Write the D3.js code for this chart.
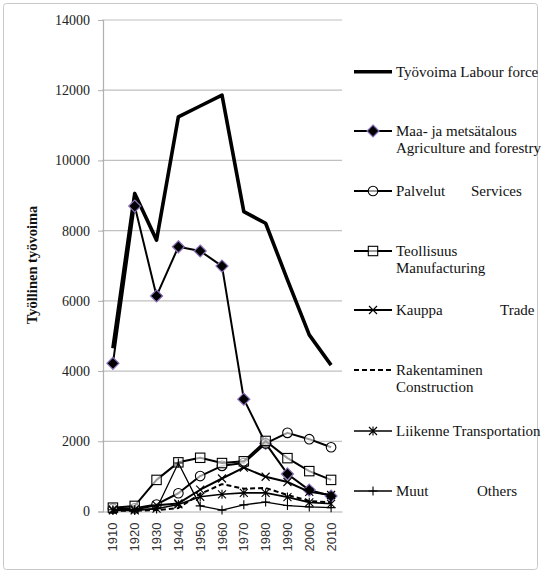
<!DOCTYPE html>
<html><head><meta charset="utf-8">
<script src="https://cdn.jsdelivr.net/npm/d3@7"></script>
<style>
html,body{margin:0;padding:0;background:#fff;}
svg{display:block;}
</style></head>
<body>
<svg id="chart" width="541" height="574"></svg>
<script>
const years = ["1910","1920","1930","1940","1950","1960","1970","1980","1990","2000","2010"];
const yTicks = [0,2000,4000,6000,8000,10000,12000,14000];
const labourForce    = [4650, 9060, 7730, 11240, 11550, 11860, 8540, 8210, 6600, 5030, 4170];
const agriculture    = [4220, 8700, 6140, 7540, 7420, 6990, 3200, 1940, 1070, 610, 440];
const services       = [80, 90, 200, 520, 1010, 1300, 1380, 1940, 2240, 2060, 1830];
const manufacturing  = [110, 160, 900, 1400, 1530, 1380, 1430, 2010, 1520, 1150, 900];
const trade          = [50, 60, 180, 230, 620, 940, 1250, 990, 840, 560, 470];
const construction   = [20, 20, 40, 100, 500, 780, 650, 670, 470, 300, 260];
const transportation = [30, 30, 80, 200, 420, 490, 530, 530, 410, 260, 220];
const others         = [50, 50, 80, 1380, 160, 40, 190, 270, 170, 130, 110];

const seriesNames = [
  ["Työvoima Labour force"],
  ["Maa- ja metsätalous","Agriculture and forestry"],
  ["Palvelut","Services"],
  ["Teollisuus","Manufacturing"],
  ["Kauppa","Trade"],
  ["Rakentaminen","Construction"],
  ["Liikenne Transportation"],
  ["Muut","Others"]
];

const svg = d3.select("#chart");
const serif = "'Liberation Serif', 'DejaVu Serif', serif";

// outer border
svg.append("rect").attr("x",3.5).attr("y",3.5).attr("width",534).attr("height",566)
  .attr("rx",3).attr("fill","none").attr("stroke","#c8c8c8").attr("stroke-width",1);

const x = d3.scaleBand().domain(years).range([102, 342]);
const xc = d => x(d) + x.bandwidth()/2;
const y = d3.scaleLinear().domain([0,14000]).range([511.5, 20]);

// gridlines
svg.append("g").selectAll("line").data(yTicks.filter(t=>t>0)).join("line")
  .attr("x1",102).attr("x2",342).attr("y1",d=>y(d)).attr("y2",d=>y(d))
  .attr("stroke","#c0c0c0").attr("stroke-width",1.2);

// y axis
const yAxis = d3.axisLeft(y).tickValues(yTicks).tickSize(5).tickPadding(8).tickFormat(d3.format("d"));
const gy = svg.append("g").attr("transform","translate(103,0)").call(yAxis);
gy.select(".domain").attr("stroke","#b0b0b0").attr("stroke-width",1.2);
gy.selectAll(".tick line").attr("stroke","#b0b0b0");
gy.selectAll("text").attr("font-family",serif).attr("font-size",14).attr("fill","#222");

// x axis
const xAxis = d3.axisBottom(x).tickSize(0).tickPadding(0);
const gx = svg.append("g").attr("transform","translate(0,511.5)").call(xAxis);
gx.select(".domain").attr("stroke","#b0b0b0").attr("stroke-width",1.2);
gx.selectAll("text")
  .attr("font-family","'Liberation Sans', Arial, sans-serif").attr("font-size",13).attr("fill","#333")
  .attr("transform","rotate(-90)").attr("text-anchor","end").attr("dy","0.35em")
  .attr("x",-11).attr("y",0);

// y title
svg.append("text").attr("transform","translate(37,265) rotate(-90)")
  .attr("text-anchor","middle").attr("font-family",serif).attr("font-weight","bold")
  .attr("font-size",14.5).attr("fill","#111").text("Työllinen työvoima");

const line = d3.line().x((d,i)=>xc(years[i])).y(d=>y(d));

const defs = [
  {data:labourForce, w:3.6, dash:null, marker:null},
  {data:agriculture, w:2, dash:null, marker:"diamond"},
  {data:services, w:2, dash:null, marker:"circle"},
  {data:manufacturing, w:2, dash:null, marker:"square"},
  {data:trade, w:2, dash:null, marker:"x"},
  {data:construction, w:2, dash:"5,3", marker:null},
  {data:transportation, w:1.6, dash:null, marker:"star"},
  {data:others, w:1.3, dash:null, marker:"plus"}
];

function drawMarker(g, type, cx, cy){
  if(type==="diamond"){
    g.append("path").attr("d",`M${cx},${cy-6}L${cx+6},${cy}L${cx},${cy+6}L${cx-6},${cy}Z`)
      .attr("fill","#000").attr("stroke","#8a6fb8").attr("stroke-width",1.2);
  } else if(type==="circle"){
    g.append("circle").attr("cx",cx).attr("cy",cy).attr("r",4.8)
      .attr("fill","#fff").attr("fill-opacity",0.6).attr("stroke","#000").attr("stroke-width",1.1);
  } else if(type==="square"){
    g.append("rect").attr("x",cx-4.7).attr("y",cy-4.7).attr("width",9.4).attr("height",9.4)
      .attr("fill","#fff").attr("fill-opacity",0.6).attr("stroke","#000").attr("stroke-width",1.1);
  } else if(type==="x"){
    g.append("path").attr("d",`M${cx-4},${cy-4}L${cx+4},${cy+4}M${cx-4},${cy+4}L${cx+4},${cy-4}`)
      .attr("stroke","#000").attr("stroke-width",1.1).attr("fill","none");
  } else if(type==="star"){
    g.append("path").attr("d",`M${cx-4},${cy-4}L${cx+4},${cy+4}M${cx-4},${cy+4}L${cx+4},${cy-4}M${cx},${cy-4.5}L${cx},${cy+4.5}`)
      .attr("stroke","#000").attr("stroke-width",1.1).attr("fill","none");
  } else if(type==="plus"){
    g.append("path").attr("d",`M${cx-4.5},${cy}L${cx+4.5},${cy}M${cx},${cy-4.5}L${cx},${cy+4.5}`)
      .attr("stroke","#000").attr("stroke-width",1.1).attr("fill","none");
  }
}

// draw series
defs.forEach(s=>{
  const g = svg.append("g");
  g.append("path").datum(s.data).attr("d",line).attr("fill","none")
    .attr("stroke","#000").attr("stroke-width",s.w).attr("stroke-linejoin","round")
    .attr("stroke-dasharray",s.dash);
  if(s.marker){
    s.data.forEach((v,i)=>drawMarker(g, s.marker, xc(years[i]), y(v)));
  }
});

// legend
const legY = [71.7, 131, 191, 251, 310, 370, 431, 491];
const secondX = {2:471, 4:500, 7:477};
defs.forEach((s,i)=>{
  const g = svg.append("g");
  const ly = legY[i];
  g.append("line").attr("x1",354).attr("x2",392).attr("y1",ly).attr("y2",ly)
    .attr("stroke","#000").attr("stroke-width",s.w).attr("stroke-dasharray",s.dash);
  if(s.marker) drawMarker(g, s.marker, 373, ly);
  const names = seriesNames[i];
  const t = g.append("text").attr("font-family",serif).attr("font-size",15).attr("fill","#111");
  if(names.length===1){
    t.attr("x",396).attr("y",ly+5).text(names[0]);
  } else if(secondX[i]){
    t.append("tspan").attr("x",396).attr("y",ly+5).text(names[0]);
    t.append("tspan").attr("x",secondX[i]).attr("y",ly+5).text(names[1]);
  } else {
    t.append("tspan").attr("x",396).attr("y",ly+5).text(names[0]);
    t.append("tspan").attr("x",396).attr("y",ly+22).text(names[1]);
  }
});
</script>
</body></html>
